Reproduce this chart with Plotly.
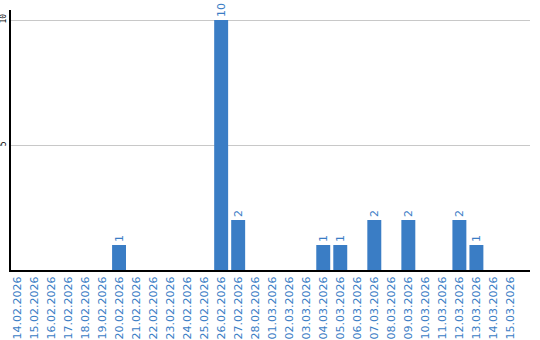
import plotly.graph_objects as go

dates = ["14.02.2026","15.02.2026","16.02.2026","17.02.2026","18.02.2026","19.02.2026",
         "20.02.2026","21.02.2026","22.02.2026","23.02.2026","24.02.2026","25.02.2026",
         "26.02.2026","27.02.2026","28.02.2026","01.03.2026","02.03.2026","03.03.2026",
         "04.03.2026","05.03.2026","06.03.2026","07.03.2026","08.03.2026","09.03.2026",
         "10.03.2026","11.03.2026","12.03.2026","13.03.2026","14.03.2026","15.03.2026"]
counts = [0,0,0,0,0,0,1,0,0,0,0,0,10,2,0,0,0,0,1,1,0,2,0,2,0,0,2,1,0,0]
ytick_vals = [5, 10]

blue = "#3a7dc5"
text = [str(v) if v > 0 else "" for v in counts]

fig = go.Figure(go.Bar(
    x=list(range(len(dates))), y=counts, width=0.82,
    marker=dict(color=blue, line=dict(width=0)),
    text=text, textposition="outside", textangle=-90, cliponaxis=False,
    textfont=dict(family="DejaVu Sans", size=11, color=blue),
))
fig.update_layout(
    width=540, height=340, margin=dict(l=11, r=10, t=10, b=70),
    paper_bgcolor="white", plot_bgcolor="white", showlegend=False,
    xaxis=dict(tickmode="array", tickvals=list(range(len(dates))), ticktext=dates,
               tickangle=-90, range=[-0.35, 30.15], showgrid=False, automargin=False,
               showline=True, linecolor="black", linewidth=2, ticks="",
               tickfont=dict(family="DejaVu Sans", size=11, color=blue)),
    yaxis=dict(tickmode="array", tickvals=ytick_vals, range=[0, 10.4], automargin=False,
               showgrid=True, gridcolor="#c8c8c8", gridwidth=1, zeroline=False,
               showline=True, linecolor="black", linewidth=2, ticks="",
               tickangle=-90, ticklabelstandoff=0,
               tickfont=dict(family="DejaVu Sans Mono", size=8, color="black")),
    uniformtext=dict(minsize=6, mode="show"),
)
fig.write_html("out.html")
